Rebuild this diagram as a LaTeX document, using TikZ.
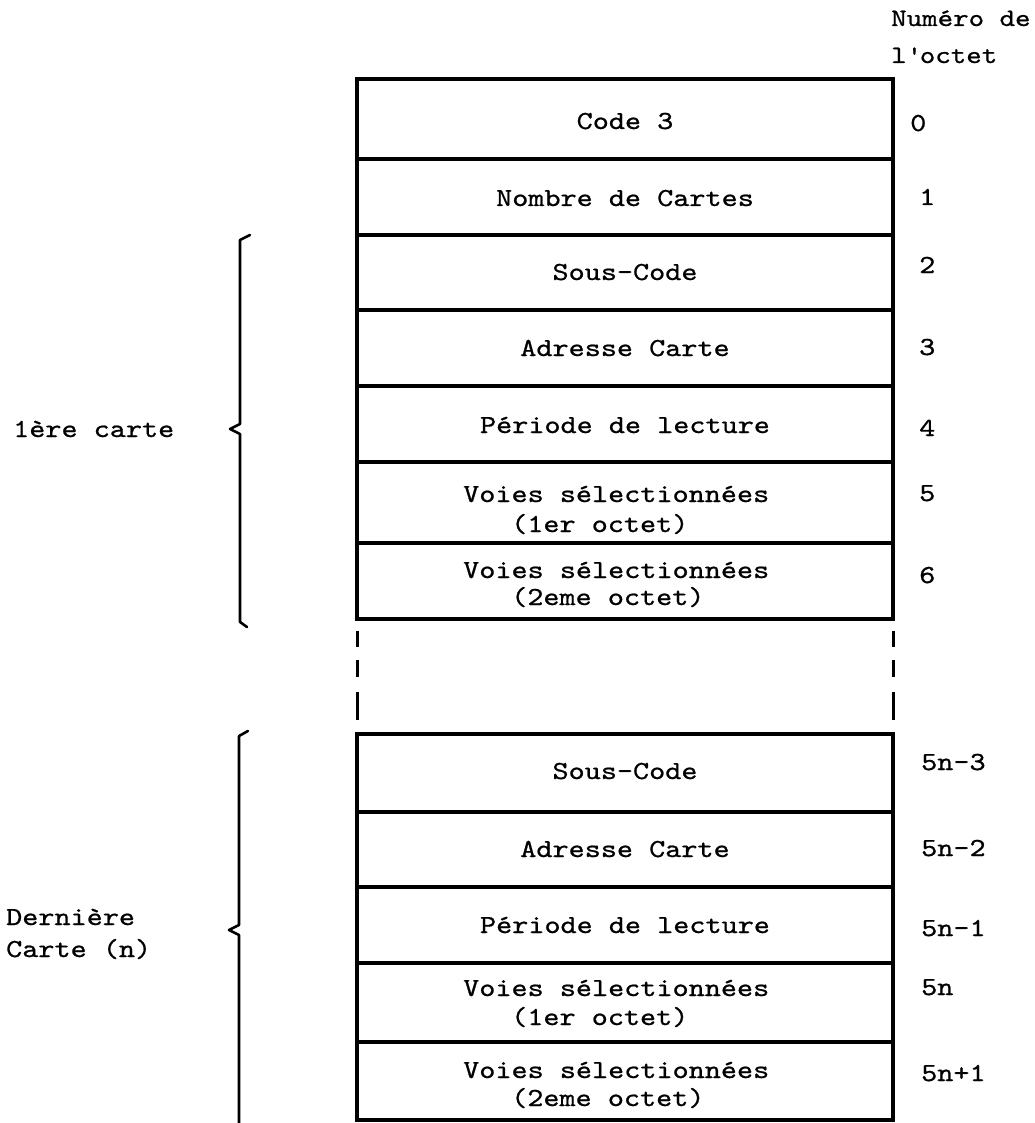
\documentclass[tikz,border=0pt]{standalone}
\usepackage{fontspec}
\newfontfamily\tw{lmmono10-regular}[Extension=.otf,FakeStretch=1.18,FakeBold=0.8]
\newcommand\twsz{\tw\fontsize{26pt}{30pt}\selectfont}
\newcommand\twhd{\tw\fontsize{25pt}{30pt}\selectfont}
\begin{document}
\begin{tikzpicture}[x=1pt,y=-1pt,
  cell/.style={draw,line width=4pt,minimum width=536pt,inner sep=0pt,outer sep=0pt,anchor=north west},
  txt/.style={font=\twsz,inner sep=0pt,anchor=base},
  txtw/.style={font=\twsz,inner sep=0pt,anchor=base west},
  hdr/.style={font=\twhd,inner sep=0pt,anchor=base west},
  bracepath/.style={line width=2.6pt,line join=round,line cap=round},
  contline/.style={line width=3pt,dash pattern=on 0pt off 12pt on 16pt off 13pt on 17pt off 15pt on 28pt off 14pt}]
\useasboundingbox (0,0) rectangle (1034,1123);
% first block
\node[cell,minimum height=80pt] (r0) at (357,79) {};
\node[cell,minimum height=76pt] (r1) at (357,159) {};
\node[cell,minimum height=75pt] (r2) at (357,235) {};
\node[cell,minimum height=76pt] (r3) at (357,310) {};
\node[cell,minimum height=76pt] (r4) at (357,386) {};
\node[cell,minimum height=81pt] (r5) at (357,462) {};
\node[cell,minimum height=76pt] (r6) at (357,543) {};
% last block
\node[cell,minimum height=78pt] (s0) at (357,734) {};
\node[cell,minimum height=75pt] (s1) at (357,812) {};
\node[cell,minimum height=76pt] (s2) at (357,887) {};
\node[cell,minimum height=79pt] (s3) at (357,963) {};
\node[cell,minimum height=78pt] (s4) at (357,1042) {};
% continuation lines
\draw[contline] (r6.south west) -- (s0.north west);
\draw[contline] (r6.south east) -- (s0.north east);
% cell texts
\node[txt] (t0) at (625,129) {Code 3};
\node[txt] (t1) at (625,206) {Nombre de Cartes};
\node[txt] (t2) at (625,280) {Sous-Code};
\node[txt] (t3) at (625,356) {Adresse Carte};
\node[txt] (t4) at (625,433) {Période de lecture};
\node[txtw] (t5a) at (463,502) {Voies sélectionnées};
\node[txtw] (t5b) at (511,532) {(1er octet)};
\node[txtw] (t6a) at (463,578) {Voies sélectionnées};
\node[txtw] (t6b) at (511,605) {(2eme octet)};
\node[txt] (u0) at (625,779) {Sous-Code};
\node[txt] (u1) at (625,857) {Adresse Carte};
\node[txt] (u2) at (625,933) {Période de lecture};
\node[txtw] (u3a) at (463,996) {Voies sélectionnées};
\node[txtw] (u3b) at (511,1025) {(1er octet)};
\node[txtw] (u4a) at (463,1078) {Voies sélectionnées};
\node[txtw] (u4b) at (511,1106) {(2eme octet)};
% header
\node[hdr] (h1) at (891,26) {Numéro de};
\node[hdr] (h2) at (891,63) {l\textquotesingle octet};
% byte numbers
\node[txtw] (n0) at (910,131) {0};
\node[txtw] (n1) at (919,205) {1};
\node[txtw] (n2) at (919,273) {2};
\node[txtw] (n3) at (919,355) {3};
\node[txtw] (n4) at (919,436) {4};
\node[txtw] (n5) at (919,501) {5};
\node[txtw] (n6) at (919,583) {6};
\node[txtw] (m0) at (921,770) {5n-3};
\node[txtw] (m1) at (921,856) {5n-2};
\node[txtw] (m2) at (921,936) {5n-1};
\node[txtw] (m3) at (921,995) {5n};
\node[txtw] (m4) at (921,1081) {5n+1};
% braces and labels
\draw[bracepath] (250,235) -- (240,240) -- (240,424) -- (230,429) -- (240,434) -- (240,622) -- (247,627);
\node[txtw] (l1) at (13,437) {1ère carte};
\draw[bracepath] (248,731) -- (239,736) -- (239,925) -- (229,930) -- (239,935) -- (239,1126);
\node[txtw] (l2a) at (6,925) {Dernière};
\node[txtw] (l2b) at (6,957) {Carte (n)};
\end{tikzpicture}
\end{document}
